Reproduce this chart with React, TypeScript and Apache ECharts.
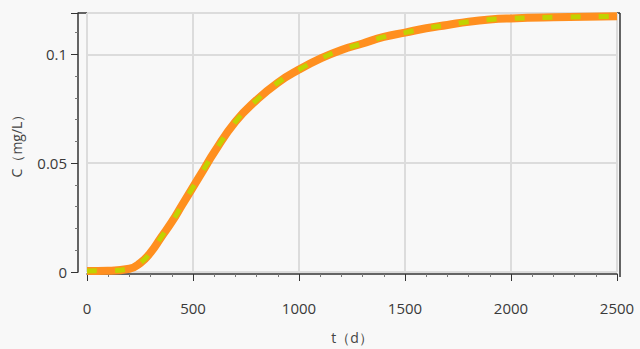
import React, { useEffect, useRef } from "react";
import * as echarts from "echarts";

const tValues = [0, 100, 200, 250, 300, 350, 400, 450, 500, 550, 600, 700, 800, 900, 1000, 1100, 1200, 1300, 1400, 1500, 1600, 1700, 1800, 1900, 2000, 2200, 2500];
const cValues = [0.0005, 0.0006, 0.0015, 0.004, 0.009, 0.016, 0.023, 0.031, 0.039, 0.047, 0.055, 0.069, 0.079, 0.087, 0.093, 0.098, 0.102, 0.105, 0.108, 0.110, 0.112, 0.1135, 0.115, 0.116, 0.1165, 0.117, 0.1175];
const xMin = 0;
const xMax = 2500;
const xStep = 500;
const yMin = 0;
const yMax = 0.119;
const yStep = 0.05;
const xName = "t（d）";
const yName = "C（mg/L）";

export default function App() {
  const ref = useRef<HTMLDivElement>(null);
  useEffect(() => {
    if (!ref.current) return;
    const chart = echarts.init(ref.current, undefined, { renderer: "svg" });
    const data = tValues.map((t, i) => [t, cValues[i]]);
    const font = "'Open Sans', 'DejaVu Sans', sans-serif";
    const frame = { stroke: "#333", lineWidth: 1.5 };
    chart.setOption({
      animation: false,
      backgroundColor: "#f8f8f8",
      grid: { left: 87, right: 23, top: 13, bottom: 74 },
      graphic: [
        { type: "line", shape: { x1: 78, y1: 13, x2: 620, y2: 13 }, style: frame, silent: true },
        { type: "line", shape: { x1: 620, y1: 13, x2: 620, y2: 277 }, style: frame, silent: true },
      ],
      xAxis: {
        type: "value",
        min: xMin,
        max: xMax,
        interval: xStep,
        offset: 2,
        name: xName,
        nameLocation: "middle",
        nameGap: 56,
        nameTextStyle: { color: "#444", fontSize: 14, fontFamily: font },
        axisLine: { show: true, onZero: false, lineStyle: { color: "#333", width: 1.5 } },
        axisTick: { show: true, length: 7, lineStyle: { color: "#333", width: 1 } },
        minorTick: { show: true, splitNumber: 5, length: 3, lineStyle: { color: "#777" } },
        axisLabel: { margin: 26, color: "#3a3a3a", fontSize: 15, fontFamily: font, formatter: (v: number) => String(v) },
        splitLine: { show: true, lineStyle: { color: "#dcdcdc", width: 2 } },
      },
      yAxis: {
        type: "value",
        min: yMin,
        max: yMax,
        interval: yStep,
        offset: 9,
        name: yName,
        nameLocation: "middle",
        nameGap: 55,
        nameTextStyle: { color: "#444", fontSize: 14, fontFamily: font },
        axisLine: { show: true, onZero: false, lineStyle: { color: "#333", width: 1.5 } },
        axisTick: { show: true, length: 7, lineStyle: { color: "#333", width: 1 } },
        minorTick: { show: true, splitNumber: 5, length: 3, lineStyle: { color: "#777" } },
        axisLabel: {
          margin: 11,
          color: "#3a3a3a",
          fontSize: 15,
          fontFamily: font,
          showMaxLabel: false,
          formatter: (v: number) => (v > 0.11 ? "" : String(v)),
        },
        splitLine: { show: true, lineStyle: { color: "#dcdcdc", width: 2 } },
      },
      series: [
        {
          type: "line",
          data,
          smooth: true,
          showSymbol: false,
          lineStyle: { color: "#ff8f1f", width: 8 },
        },
        {
          type: "line",
          data,
          smooth: true,
          showSymbol: false,
          lineStyle: { color: "#c2d200", width: 5, type: [10, 18] },
        },
      ],
    });
    return () => chart.dispose();
  }, []);
  return (
    <div
      ref={ref}
      style={{ position: "fixed", left: 0, top: 0, width: 640, height: 349, background: "#f8f8f8" }}
    />
  );
}
